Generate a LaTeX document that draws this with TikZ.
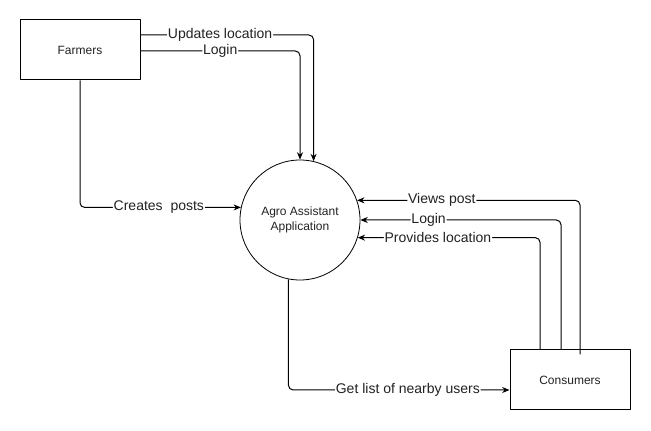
\documentclass[tikz,border=0pt]{standalone}
\usepackage{fontspec}
\setmainfont{Liberation Sans}
\usetikzlibrary{arrows.meta,calc}
\definecolor{ink}{HTML}{222222}
\tikzset{
  every picture/.style={line join=round, >=Stealth},
  entity/.style={draw, line width=0.75pt, minimum width=90pt, minimum height=45pt, font=\fontsize{9}{11}\selectfont, text=ink},
  process/.style={draw, circle, line width=0.6pt, minimum size=90pt, align=center, font=\fontsize{9}{11}\selectfont, text=ink},
  flow/.style={->, line width=0.75pt, rounded corners=3.5pt, >={Stealth[length=5.5pt,width=4.5pt]}},
  lbl/.style={fill=white, inner sep=0.6pt, font=\fontsize{10.5}{12}\selectfont, text=ink},
}

\begin{document}
\begin{tikzpicture}[x=0.75pt,y=-0.75pt]
\useasboundingbox (0,0) rectangle (651,431);
\node[entity] (farmers) at (80,50) {Farmers};
\node[process] (app) at (300,220) {Agro Assistant\\Application};
\node[entity] (consumers) at (570,380) {Consumers};
% farmers -> application
\draw[flow] ($(farmers.east)+(0,-15)$) -| node[lbl,pos=0.23]{Updates location} (app.77);
\draw[flow] ($(farmers.east)+(0,1)$) -| node[lbl,pos=0.25]{Login} (app.north);
\draw[flow] (farmers.south) |- node[lbl,pos=0.745]{Creates\ \ posts\ } (app.168);
% consumers -> application
\draw[flow] ($(consumers.north)+(10,5)$) |- node[lbl,pos=0.81]{Views post\ } (app.19);
\draw[flow] ($(consumers.north)+(-9,0)$) |- node[lbl,pos=0.83]{Login} (app.east);
\draw[flow] ($(consumers.north)+(-30,0)$) |- node[lbl,pos=0.78]{Provides location} (app.-17);
% application -> consumers
\draw[flow] (app.259) |- node[lbl,pos=0.77]{Get list of nearby users} ($(consumers.west)+(0,10)$);
\end{tikzpicture}
\end{document}
